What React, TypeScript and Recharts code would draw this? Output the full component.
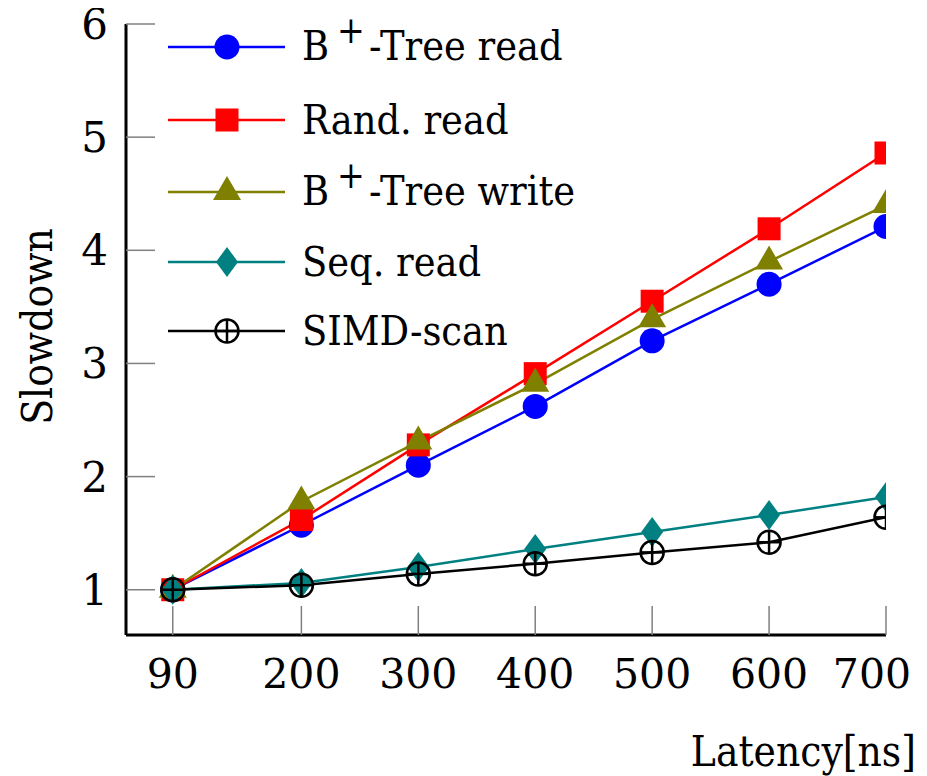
import React from 'react';
import { LineChart, Line, XAxis, YAxis, Legend } from 'recharts';

const latencies = [90, 200, 300, 400, 500, 600, 700];
const btreeRead = [1, 1.57, 2.1, 2.62, 3.2, 3.7, 4.21];
const randRead = [1, 1.62, 2.28, 2.91, 3.55, 4.19, 4.86];
const btreeWrite = [1, 1.78, 2.31, 2.82, 3.39, 3.9, 4.4];
const seqRead = [1, 1.06, 1.2, 1.36, 1.51, 1.66, 1.82];
const simdScan = [1, 1.04, 1.14, 1.23, 1.33, 1.42, 1.64];

const xTicks = [90, 200, 300, 400, 500, 600, 700];
const yTicks = [1, 2, 3, 4, 5, 6];

const data = latencies.map((l, i) => ({
  latency: l,
  btreeRead: btreeRead[i],
  randRead: randRead[i],
  btreeWrite: btreeWrite[i],
  seqRead: seqRead[i],
  simdScan: simdScan[i],
}));

const FONT = "'DejaVu Serif', serif";
const FONTC = "'DejaVu Serif Condensed', 'DejaVu Serif', serif";
const BLUE = '#0000ff';
const RED = '#ff0000';
const OLIVE = '#808000';
const TEAL = '#008080';
const BLACK = '#000000';

type Kind = 'circle' | 'square' | 'triangle' | 'diamond' | 'oplus';

const marker = (kind: Kind, cx: number, cy: number, color: string, key?: any) => {
  switch (kind) {
    case 'circle':
      return <circle key={key} cx={cx} cy={cy} r={12.5} fill={color} />;
    case 'square':
      return <rect key={key} x={cx - 11.5} y={cy - 11.5} width={23} height={23} fill={color} />;
    case 'triangle':
      return <path key={key} d={`M${cx},${cy - 16}L${cx + 14},${cy + 8}L${cx - 14},${cy + 8}Z`} fill={color} />;
    case 'diamond':
      return <path key={key} d={`M${cx},${cy - 15}L${cx + 11},${cy}L${cx},${cy + 15}L${cx - 11},${cy}Z`} fill={color} />;
    case 'oplus':
      return (
        <g key={key}>
          <circle cx={cx} cy={cy} r={11.5} fill="none" stroke={color} strokeWidth={2.5} />
          <line x1={cx - 11.5} y1={cy} x2={cx + 11.5} y2={cy} stroke={color} strokeWidth={2.5} />
          <line x1={cx} y1={cy - 11.5} x2={cx} y2={cy + 11.5} stroke={color} strokeWidth={2.5} />
        </g>
      );
  }
  return null;
};

const series: { key: string; name: string; color: string; kind: Kind; sup: boolean; rest: string }[] = [
  { key: 'btreeRead', name: 'B+-Tree read', color: BLUE, kind: 'circle', sup: true, rest: '-Tree read' },
  { key: 'randRead', name: 'Rand. read', color: RED, kind: 'square', sup: false, rest: 'Rand. read' },
  { key: 'btreeWrite', name: 'B+-Tree write', color: OLIVE, kind: 'triangle', sup: true, rest: '-Tree write' },
  { key: 'seqRead', name: 'Seq. read', color: TEAL, kind: 'diamond', sup: false, rest: 'Seq. read' },
  { key: 'simdScan', name: 'SIMD-scan', color: BLACK, kind: 'oplus', sup: false, rest: 'SIMD-scan' },
];

const rowHeights = [72, 73, 72, 67, 72];

const renderLegend = () => (
  <div style={{ fontFamily: FONTC, fontStretch: 'condensed', fontSize: 41, color: '#000' }}>
    {series.map((s, i) => (
      <div key={s.key} style={{ display: 'flex', alignItems: 'center', height: rowHeights[i] }}>
        <svg width={117} height={40} style={{ display: 'block' }}>
          <line x1={0} y1={20} x2={117} y2={20} stroke={s.color} strokeWidth={2.5} />
          {marker(s.kind, 59, 20, s.color)}
        </svg>
        <span style={{ marginLeft: 17, lineHeight: '72px', whiteSpace: 'nowrap' }}>
          {s.sup ? (
            <>
              B
              <span style={{ fontSize: '0.9em', position: 'relative', top: -17, marginLeft: 8, marginRight: 4 }}>+</span>
              {s.rest}
            </>
          ) : (
            s.rest
          )}
        </span>
      </div>
    ))}
  </div>
);

const YTick = (props: any) => {
  const { x, y, payload } = props;
  return (
    <g>
      <line x1={x} y1={y} x2={x + 29} y2={y} stroke="#808080" strokeWidth={1.5} />
      <text x={x - 18} y={y + 15} textAnchor="end" fontFamily={FONT} fontSize={42} fill="#000">
        {payload.value}
      </text>
    </g>
  );
};

const XTick = (props: any) => {
  const { x, y, payload } = props;
  const halfW = 39;
  const shift = Math.min(0, 903 - (x + halfW));
  return (
    <g>
      <line x1={x} y1={y} x2={x} y2={y - 29} stroke="#808080" strokeWidth={1.5} />
      <text x={x + shift} y={y + 53} textAnchor="middle" fontFamily={FONT} fontSize={41} fill="#000">
        {payload.value}
      </text>
    </g>
  );
};

export default function App() {
  return (
    <div>
      <style>{`html, body { overflow: hidden !important; } .recharts-wrapper, .recharts-surface { overflow: visible !important; }`}</style>
      <LineChart
        width={919}
        height={768}
        data={data}
        margin={{ top: 16, right: 41, left: 0, bottom: 0 }}
      >
        <XAxis
          type="number"
          dataKey="latency"
          domain={[50, 700]}
          ticks={xTicks}
          allowDataOverflow
          height={141}
          tickSize={0}
          tickMargin={0}
          tickLine={false}
          axisLine={{ stroke: '#000', strokeWidth: 3 }}
          tick={<XTick />}
          interval={0}
          label={{
            content: (p: any) => {
              const vb = p.viewBox || { x: 118, y: 627, width: 760, height: 141 };
              return (
                <text x={vb.x + vb.width + 30} y={vb.y + 131} textAnchor="end" fontFamily={FONTC} style={{ fontStretch: 'condensed' }} fontSize={42} fill="#000">
                  Latency[ns]
                </text>
              );
            },
          }}
        />
        <YAxis
          type="number"
          domain={[0.6, 6]}
          ticks={yTicks}
          allowDataOverflow
          width={118}
          tickSize={0}
          tickMargin={0}
          tickLine={false}
          axisLine={{ stroke: '#000', strokeWidth: 3 }}
          tick={<YTick />}
          interval={0}
          label={{
            content: (p: any) => {
              const vb = p.viewBox || { x: 0, y: 16, width: 118, height: 611 };
              const cx = vb.x + 44;
              const cy = vb.y + vb.height / 2 - 3;
              return (
                <text x={cx} y={cy} transform={`rotate(-90, ${cx}, ${cy})`} textAnchor="middle" fontFamily={FONTC} style={{ fontStretch: 'condensed' }} fontSize={42} fill="#000">
                  Slowdown
                </text>
              );
            },
          }}
        />
        <Legend
          layout="vertical"
          align="center"
          verticalAlign="middle"
          content={renderLegend}
          wrapperStyle={{ position: 'absolute', top: 3, left: 160, width: 'auto' }}
        />
        {series.map((s) => (
          <Line
            key={s.key}
            dataKey={s.key}
            name={s.name}
            stroke={s.color}
            strokeWidth={2.5}
            isAnimationActive={false}
            dot={(p: any) => marker(s.kind, p.cx, p.cy, s.color, `${s.key}-${p.index}`)}
            activeDot={false}
          />
        ))}
      </LineChart>
    </div>
  );
}
